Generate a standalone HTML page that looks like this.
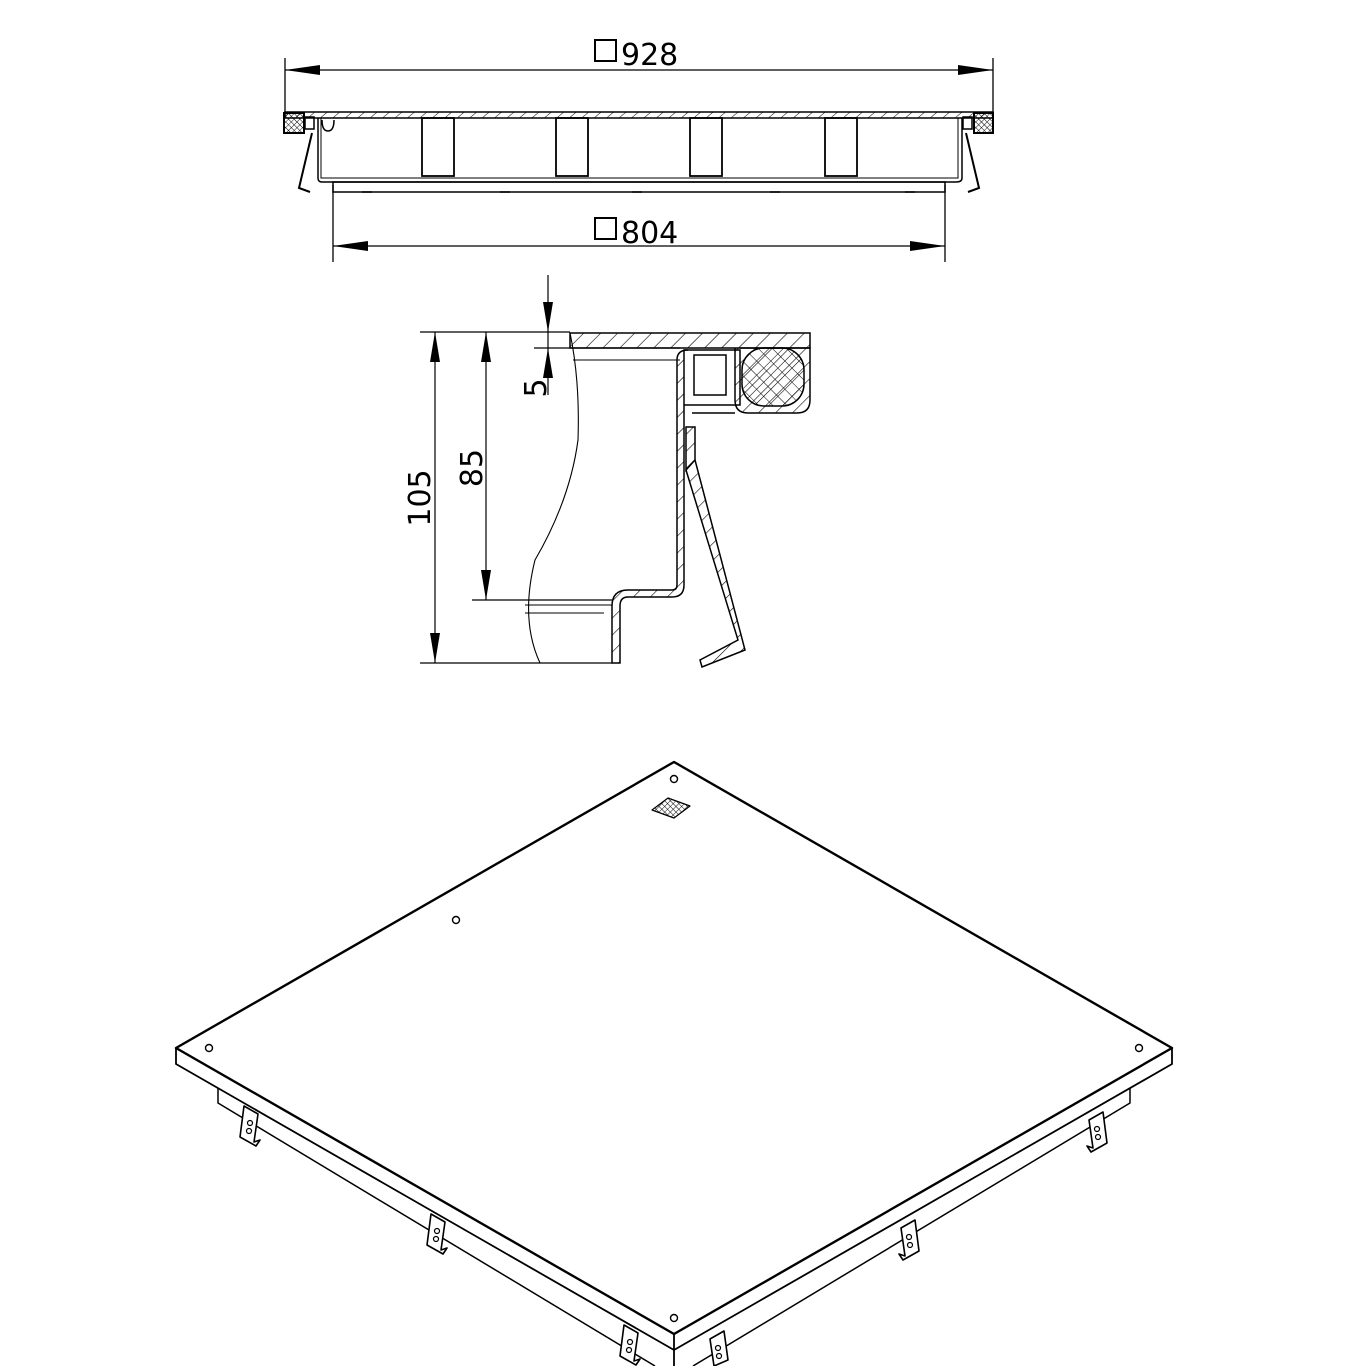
<!DOCTYPE html>
<html><head><meta charset="utf-8"><style>
html,body{margin:0;padding:0;background:#fff}
svg{display:block}
text{font-family:"DejaVu Sans","Liberation Sans",sans-serif;fill:#000}
</style></head><body>
<svg width="1366" height="1366" viewBox="0 0 1366 1366" xmlns="http://www.w3.org/2000/svg">
<defs>
<pattern id="h" width="12" height="12" patternUnits="userSpaceOnUse" patternTransform="rotate(45)"><line x1="0" y1="0" x2="0" y2="12" stroke="#000" stroke-width="1.2"/></pattern>
<pattern id="hs" width="8" height="8" patternUnits="userSpaceOnUse" patternTransform="rotate(50)"><line x1="0" y1="0" x2="0" y2="8" stroke="#000" stroke-width="1"/></pattern>
<pattern id="x" width="10" height="10" patternUnits="userSpaceOnUse" patternTransform="rotate(45)"><path d="M0 0V10M0 0H10" stroke="#000" stroke-width="1.1"/></pattern>
<pattern id="xs" width="4" height="4" patternUnits="userSpaceOnUse" patternTransform="rotate(45)"><path d="M0 0V4M0 0H4" stroke="#000" stroke-width="0.9"/></pattern>
</defs>
<g fill="none" stroke="#000" stroke-width="1.3">
<line x1="285" y1="58" x2="285" y2="112"/><line x1="993" y1="58" x2="993" y2="112"/>
<line x1="285" y1="70" x2="993" y2="70"/>
<line x1="333" y1="185" x2="333" y2="262"/><line x1="945" y1="185" x2="945" y2="262"/>
<line x1="333" y1="246" x2="945" y2="246"/>
</g>
<g fill="#000">
<path d="M285 70 L320 65 L320 75Z"/><path d="M993 70 L958 65 L958 75Z"/>
<path d="M333 246 L368 241 L368 251Z"/><path d="M945 246 L910 241 L910 251Z"/>
</g>
<rect x="595" y="40" width="21" height="21" fill="none" stroke="#000" stroke-width="2"/>
<text x="621" y="65" font-size="30">928</text>
<rect x="595" y="218" width="21" height="21" fill="none" stroke="#000" stroke-width="2"/>
<text x="621" y="243" font-size="30">804</text>
<g stroke="#000" stroke-width="1.5">
<rect x="285" y="112" width="708" height="6" fill="url(#hs)"/>
<rect x="284" y="113" width="20" height="20" fill="url(#xs)" stroke-width="2"/>
<rect x="974" y="113" width="19" height="20" fill="url(#xs)" stroke-width="2"/>
<rect x="305" y="117" width="9" height="12" fill="none"/><rect x="963" y="117" width="9" height="12" fill="none"/>
<path d="M318 118 V178 Q318 182 322 182 H956 Q962 182 962 178 V118" fill="none"/>
<path d="M321 118 V178 H958 V118" fill="none" stroke-width="1"/>
<rect x="333" y="182" width="612" height="10" fill="none"/>
<path d="M312 133 L299 188 L310 192 M966 133 L979 188 L968 192" fill="none" stroke-width="2"/>
<path d="M322 120 Q322 131 328 131 Q334 131 334 120" fill="none"/>
<g fill="none" stroke-width="1.8">
<rect x="422" y="118" width="32" height="58"/><rect x="556" y="118" width="32" height="58"/>
<rect x="690" y="118" width="32" height="58"/><rect x="825" y="118" width="32" height="58"/>
</g>
<g stroke-width="1.5" fill="none"><path d="M362 192h10M500 192h10M632 192h10M770 192h10M905 192h10"/></g>
</g>
<g stroke="#000" stroke-width="1.2" fill="none">
<line x1="420" y1="332" x2="570" y2="332"/>
<line x1="472" y1="600" x2="612" y2="600"/>
<line x1="420" y1="663" x2="612" y2="663"/>
<line x1="534" y1="348" x2="680" y2="348"/>
<line x1="435" y1="332" x2="435" y2="663"/>
<line x1="486" y1="332" x2="486" y2="600"/>
<line x1="548" y1="275" x2="548" y2="395"/>
</g>
<g fill="#000">
<path d="M435 332 l-5 30 h10Z"/><path d="M435 663 l-5 -30 h10Z"/>
<path d="M486 332 l-5 30 h10Z"/><path d="M486 600 l-5 -30 h10Z"/>
<path d="M548 332 l-5 -30 h10Z"/><path d="M548 348 l-5 30 h10Z"/>
</g>
<text transform="translate(430,498) rotate(-90)" font-size="30" text-anchor="middle">105</text>
<text transform="translate(482,468) rotate(-90)" font-size="30" text-anchor="middle">85</text>
<text transform="translate(546,388) rotate(-90)" font-size="30" text-anchor="middle">5</text>
<g stroke="#000" stroke-width="1.5">
<path d="M570 333 H810 V348 H570Z" fill="url(#h)"/>
<path d="M573 360 H680" fill="none" stroke-width="1"/>
<path d="M570 333 Q580 380 578 440 Q570 500 535 560 Q520 620 540 663" fill="none" stroke-width="1.1"/>
<path d="M676 350 V585 Q676 597 664 597 H620 Q612 597 612 606 V663 H604 V606 Q604 590 620 590 H664 Q669 590 669 585 V360 Q669 350 680 350Z" transform="translate(8,0)" fill="url(#h)"/>
<path d="M525 605 H612 M525 613 H604" fill="none" stroke-width="1"/>
<path d="M684 350 H740 V405 H684" fill="none"/>
<rect x="694" y="355" width="32" height="40" fill="none"/>
<path d="M740 348 H810 V400 Q810 413 797 413 H748 Q735 413 735 400 V348" fill="url(#h)"/>
<rect x="742" y="348" width="62" height="58" rx="22" fill="url(#x)"/>
<path d="M692 413 H735" fill="none"/>
<path d="M686 427 H695 V460 L686 470Z" fill="url(#h)"/>
<path d="M686 470 L738 640 L700 660 L702 667 L745 650 L695 460" fill="url(#h)"/>
</g>
<g stroke="#000" fill="none" stroke-linejoin="round">
<path d="M674 762 L1172 1048 L674 1334 L176 1048 Z" stroke-width="2.4" fill="#fff"/>
<path d="M176 1048 V1064 L674 1350 L1172 1064 V1048 M674 1334 V1366" stroke-width="1.8"/>
<path d="M218 1088 V1103 L655 1366 M1130 1088 V1103 L693 1366" stroke-width="1.5"/>
<circle cx="674" cy="779" r="3.5" stroke-width="1.4"/>
<circle cx="209" cy="1048" r="3.5" stroke-width="1.4"/>
<circle cx="1139" cy="1048" r="3.5" stroke-width="1.4"/>
<circle cx="674" cy="1318" r="3.5" stroke-width="1.4"/>
<circle cx="456" cy="920" r="3.5" stroke-width="1.4"/>
<path d="M652 810 L668 798 L690 806 L674 818Z" stroke-width="1.2" fill="url(#xs)"/>
<g stroke-width="1.6" fill="#fff">
<path d="M244 1106 L258 1114 L254 1142 L260 1140 L256 1146 L240 1137Z"/>
<path d="M431 1214 L445 1222 L441 1250 L447 1248 L443 1254 L427 1245Z"/>
<path d="M624 1325 L638 1333 L634 1361 L640 1359 L636 1365 L620 1356Z"/>
<path d="M724 1331 L710 1339 L714 1366 L728 1360Z"/>
<path d="M915 1220 L901 1228 L905 1256 L899 1254 L903 1260 L919 1251Z"/>
<path d="M1103 1112 L1089 1120 L1093 1148 L1087 1146 L1091 1152 L1107 1143Z"/>
</g>
<g stroke-width="1.2">
<circle cx="250" cy="1123" r="2.5"/><circle cx="249" cy="1131" r="2.5"/>
<circle cx="437" cy="1231" r="2.5"/><circle cx="436" cy="1239" r="2.5"/>
<circle cx="630" cy="1342" r="2.5"/><circle cx="629" cy="1350" r="2.5"/>
<circle cx="718" cy="1348" r="2.5"/><circle cx="719" cy="1356" r="2.5"/>
<circle cx="909" cy="1237" r="2.5"/><circle cx="910" cy="1245" r="2.5"/>
<circle cx="1097" cy="1129" r="2.5"/><circle cx="1098" cy="1137" r="2.5"/>
</g>
</g>
</svg>
</body></html>
